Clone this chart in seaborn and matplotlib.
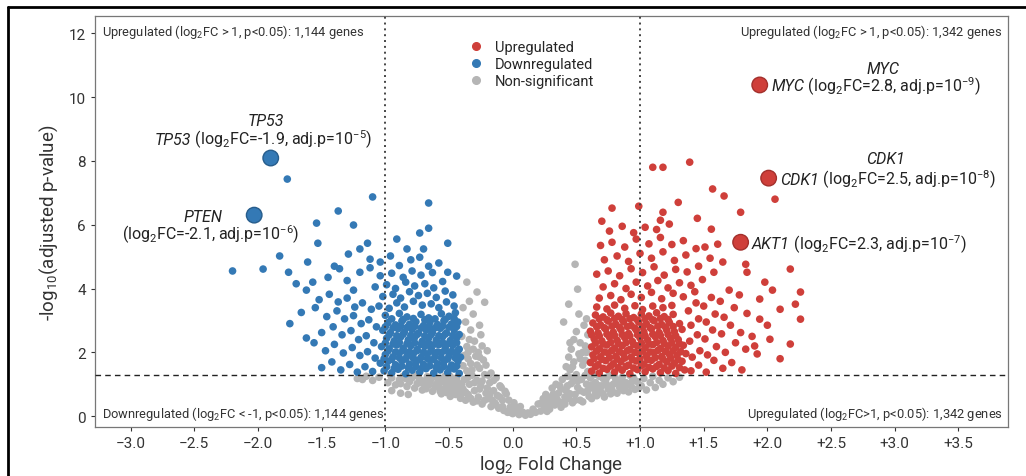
import matplotlib
matplotlib.use("Agg")
import matplotlib.pyplot as plt
import pandas as pd
import seaborn as sns
from matplotlib.lines import Line2D

# ---- data (log2FC, -log10 adj p) ----
gray_pts = [
    (-1.22, 1.18), (-1.15, 1.25), (-1.10, 1.12), (-1.05, 1.22), (-1.18, 1.15),
    (-0.98, 1.05), (-0.95, 1.20), (-0.92, 0.98), (-0.89, 1.14), (-0.86, 1.25), (-0.83, 0.93), (-0.81, 1.08),
    (-0.95, 0.80), (-0.88, 0.72), (-0.82, 0.68), (-0.96, 1.29), (-0.88, 1.02), (-0.84, 1.18),
    (-0.79, 1.20), (-0.77, 0.88), (-0.75, 1.02), (-0.73, 1.15), (-0.71, 0.82), (-0.69, 0.96), (-0.67, 1.24),
    (-0.65, 1.09), (-0.63, 0.78), (-0.61, 0.92), (-0.76, 1.28), (-0.72, 1.05), (-0.68, 0.86), (-0.64, 1.17),
    (-0.59, 1.18), (-0.58, 1.04), (-0.56, 0.70), (-0.55, 0.85), (-0.53, 1.26), (-0.52, 0.98), (-0.50, 1.12),
    (-0.49, 0.62), (-0.47, 0.77), (-0.46, 0.91), (-0.44, 1.20), (-0.43, 1.05), (-0.41, 0.56), (-0.40, 0.70),
    (-0.60, 1.00), (-0.57, 0.78), (-0.54, 1.08), (-0.51, 0.88), (-0.48, 1.02), (-0.45, 0.68), (-0.42, 0.95),
    (-0.39, 0.85), (-0.38, 1.15), (-0.37, 0.50), (-0.36, 1.42), (-0.35, 0.68), (-0.34, 1.00), (-0.33, 1.65),
    (-0.32, 1.28), (-0.31, 0.44), (-0.30, 0.80), (-0.29, 1.88), (-0.28, 1.12), (-0.27, 0.60), (-0.26, 1.50),
    (-0.25, 0.95), (-0.24, 0.38), (-0.23, 1.76), (-0.22, 1.30), (-0.21, 0.72), (-0.20, 2.05),
    (-0.38, 1.90), (-0.36, 2.18), (-0.34, 2.40), (-0.31, 2.10), (-0.39, 1.58), (-0.35, 1.80), (-0.30, 2.35),
    (-0.27, 2.00), (-0.25, 2.55), (-0.33, 2.70), (-0.37, 2.95), (-0.36, 4.20), (-0.28, 3.89), (-0.22, 3.57),
    (-0.31, 3.20), (-0.39, 3.40), (-0.40, 2.50), (-0.26, 2.85), (-0.34, 3.60),
    (-0.19, 0.55), (-0.18, 1.05), (-0.17, 0.30), (-0.17, 1.35), (-0.15, 0.80), (-0.14, 0.42), (-0.13, 1.20),
    (-0.12, 0.65), (-0.11, 0.25), (-0.10, 0.95), (-0.09, 0.90), (-0.08, 0.50), (-0.07, 0.18), (-0.06, 0.78),
    (-0.05, 0.70), (-0.21, 1.60), (-0.26, 1.85), (-0.19, 1.28),
    (-0.04, 0.12), (-0.03, 0.50), (-0.02, 0.28), (0.00, 0.08), (0.01, 0.42), (0.03, 0.20), (0.05, 0.05),
    (0.06, 0.30), (0.08, 0.12), (0.10, 0.03), (0.12, 0.10), (0.14, 0.06), (0.16, 0.22), (0.18, 0.12),
    (0.20, 0.38), (0.22, 0.16), (0.24, 0.55), (0.25, 0.28),
    (0.26, 0.68), (0.27, 0.40), (0.29, 0.22), (0.30, 0.60), (0.31, 0.88), (0.33, 0.35), (0.34, 1.00),
    (0.35, 0.52), (0.36, 0.72), (0.38, 0.28), (0.39, 1.15), (0.40, 0.45), (0.28, 0.55), (0.32, 0.70), (0.37, 0.95),
    (0.41, 0.38), (0.42, 0.80), (0.43, 1.25), (0.44, 0.55), (0.45, 1.45), (0.46, 1.02), (0.47, 0.42),
    (0.48, 1.70), (0.49, 0.68), (0.50, 1.30), (0.51, 0.90), (0.52, 1.95), (0.53, 0.50), (0.54, 1.15),
    (0.55, 1.60), (0.56, 0.75), (0.57, 2.20), (0.58, 1.00), (0.59, 1.40), (0.60, 0.62),
    (0.42, 1.55), (0.44, 1.85), (0.46, 2.10), (0.48, 2.40), (0.50, 2.65), (0.53, 2.30), (0.55, 2.00),
    (0.57, 1.75), (0.59, 2.55), (0.56, 2.85), (0.40, 2.95), (0.44, 3.51), (0.51, 3.98), (0.49, 4.76),
    (0.52, 3.20), (0.58, 3.05),
    (0.61, 1.20), (0.62, 0.55), (0.63, 0.88), (0.65, 1.05), (0.66, 0.64), (0.68, 1.25), (0.69, 0.78),
    (0.70, 0.95), (0.72, 0.60), (0.73, 1.12), (0.75, 0.85), (0.76, 1.28), (0.77, 0.70), (0.79, 1.00),
    (0.64, 1.30), (0.71, 1.18), (0.74, 0.98), (0.67, 0.82),
    (0.81, 1.15), (0.82, 0.72), (0.84, 0.90), (0.86, 1.22), (0.87, 0.80), (0.89, 1.05), (0.91, 0.76),
    (0.93, 0.95), (0.95, 1.20), (0.96, 0.84), (0.98, 1.08), (0.99, 0.88), (0.85, 1.00), (0.92, 1.28),
    (1.01, 0.95), (1.03, 1.18), (1.05, 0.82), (1.08, 1.05), (1.10, 1.25), (1.12, 0.90), (1.15, 1.12),
    (1.18, 1.00), (1.22, 1.20), (1.26, 1.08), (1.31, 1.22),
    (-0.70, 1.10), (-0.66, 0.98), (-0.62, 1.26), (-0.58, 0.90), (-0.55, 1.15), (-0.52, 0.74), (-0.49, 1.24),
    (-0.46, 1.10), (-0.44, 0.80), (-0.40, 1.00), (-0.37, 0.75), (-0.35, 1.22), (-0.33, 0.56), (-0.30, 1.05),
    (-0.28, 0.48), (-0.26, 0.85), (-0.24, 1.10), (-0.22, 0.50), (-0.20, 0.88), (-0.18, 0.68), (-0.16, 0.50),
    (-0.15, 1.12), (-0.13, 0.35), (-0.10, 0.60), (-0.08, 0.30), (-0.02, 0.12), (0.02, 0.30), (0.04, 0.10),
    (0.22, 0.40), (0.27, 0.15), (0.30, 0.40), (0.33, 0.55), (0.36, 0.40), (0.38, 0.85), (0.41, 0.60),
    (0.43, 0.95), (0.45, 0.70), (0.47, 1.20), (0.49, 0.50), (0.51, 1.10), (0.53, 0.80), (0.55, 0.45),
    (0.57, 1.28), (0.59, 0.80), (0.62, 0.98), (0.65, 0.72), (0.68, 0.95), (0.71, 0.70), (0.74, 1.22),
    (0.78, 0.82), (0.80, 1.25), (0.83, 1.05), (0.88, 0.92), (0.94, 1.10), (-0.32, 1.45), (-0.28, 1.60),
    (-0.24, 2.20), (-0.35, 2.00), (0.47, 1.55), (0.53, 1.80), (0.45, 2.30), (0.58, 2.00),
]

blue_pts = [
    (-1.01, 1.42), (-0.95, 1.36), (-0.90, 1.47), (-0.84, 1.33), (-0.79, 1.44), (-0.73, 1.38), (-0.68, 1.49),
    (-0.62, 1.35), (-0.57, 1.45), (-0.51, 1.37), (-0.46, 1.48), (-0.42, 1.34),
    (-1.04, 1.66), (-0.98, 1.72), (-0.92, 1.61), (-0.87, 1.74), (-0.81, 1.63), (-0.76, 1.70), (-0.70, 1.62),
    (-0.65, 1.76), (-0.59, 1.64), (-0.54, 1.71), (-0.48, 1.60), (-0.43, 1.73),
    (-1.00, 1.93), (-0.94, 1.86), (-0.89, 1.98), (-0.83, 1.88), (-0.78, 1.96), (-0.72, 1.84), (-0.67, 1.95),
    (-0.61, 1.87), (-0.56, 1.99), (-0.50, 1.89), (-0.45, 1.97), (-0.41, 1.85),
    (-1.03, 2.18), (-0.97, 2.11), (-0.91, 2.23), (-0.86, 2.13), (-0.80, 2.21), (-0.75, 2.09), (-0.69, 2.19),
    (-0.64, 2.12), (-0.58, 2.24), (-0.53, 2.14), (-0.47, 2.22), (-0.42, 2.10),
    (-0.99, 2.44), (-0.93, 2.36), (-0.88, 2.48), (-0.82, 2.39), (-0.77, 2.47), (-0.71, 2.35), (-0.66, 2.45),
    (-0.60, 2.38), (-0.55, 2.49), (-0.49, 2.37), (-0.44, 2.46),
    (-1.02, 2.69), (-0.96, 2.62), (-0.90, 2.74), (-0.85, 2.64), (-0.79, 2.72), (-0.74, 2.60), (-0.68, 2.70),
    (-0.63, 2.63), (-0.57, 2.75), (-0.52, 2.61), (-0.46, 2.71),
    (-0.98, 2.93), (-0.92, 2.86), (-0.87, 2.98), (-0.81, 2.88), (-0.76, 2.96), (-0.70, 2.84), (-0.65, 2.94),
    (-0.59, 2.87), (-0.54, 2.99), (-0.48, 2.89), (-0.43, 2.95),
    (-1.00, 3.16), (-0.89, 3.22), (-0.83, 3.11), (-0.72, 3.19), (-0.66, 3.08), (-0.56, 3.21), (-0.50, 3.13),
    (-0.45, 3.24),
    (-0.99, 1.55), (-0.93, 1.50), (-0.87, 1.57), (-0.82, 1.52), (-0.76, 1.56), (-0.71, 1.51), (-0.65, 1.58),
    (-0.60, 1.53), (-0.54, 1.56), (-0.49, 1.51), (-0.44, 1.57),
    (-1.01, 1.80), (-0.95, 1.78), (-0.89, 1.83), (-0.84, 1.79), (-0.78, 1.82), (-0.73, 1.77), (-0.67, 1.81),
    (-0.62, 1.78), (-0.56, 1.83), (-0.51, 1.79), (-0.45, 1.82),
    (-0.98, 2.04), (-0.92, 2.01), (-0.86, 2.06), (-0.81, 2.02), (-0.75, 2.05), (-0.70, 2.00), (-0.64, 2.04),
    (-0.59, 2.01), (-0.53, 2.06), (-0.48, 2.03), (-0.43, 2.05),
    (-1.00, 2.29), (-0.94, 2.26), (-0.89, 2.31), (-0.83, 2.27), (-0.77, 2.30), (-0.72, 2.25), (-0.66, 2.29),
    (-0.61, 2.26), (-0.55, 2.31), (-0.50, 2.28), (-0.44, 2.30),
    (-0.97, 2.55), (-0.91, 2.52), (-0.86, 2.57), (-0.80, 2.53), (-0.75, 2.56), (-0.69, 2.51), (-0.64, 2.55),
    (-0.58, 2.52), (-0.53, 2.57), (-0.47, 2.53), (-0.42, 2.56),
    (-1.00, 2.80), (-0.94, 2.77), (-0.88, 2.82), (-0.83, 2.78), (-0.77, 2.81), (-0.72, 2.76), (-0.66, 2.80),
    (-0.61, 2.77), (-0.55, 2.82), (-0.50, 2.79), (-0.44, 2.81),
    (-0.95, 3.05), (-0.86, 3.03), (-0.78, 3.06), (-0.69, 3.02), (-0.61, 3.05), (-0.53, 3.03), (-0.46, 3.06),
    (-1.10, 1.40), (-1.16, 1.55), (-1.22, 1.38), (-1.28, 1.62), (-1.35, 1.45), (-1.42, 1.70), (-1.50, 1.52),
    (-1.08, 1.82), (-1.14, 2.02), (-1.20, 1.90), (-1.26, 2.15), (-1.33, 1.98), (-1.40, 2.25), (-1.47, 2.05),
    (-1.56, 2.30), (-1.09, 2.30), (-1.15, 2.52), (-1.21, 2.40), (-1.27, 2.68), (-1.34, 2.55), (-1.41, 2.80),
    (-1.50, 2.62), (-1.07, 2.80), (-1.13, 3.02), (-1.19, 2.90), (-1.25, 3.15), (-1.32, 3.05), (-1.38, 3.30),
    (-1.46, 3.12), (-1.55, 3.40), (-1.11, 3.35), (-1.18, 3.55), (-1.24, 3.42), (-1.30, 3.70), (-1.37, 3.58),
    (-1.44, 3.82), (-1.52, 3.65), (-1.75, 2.90), (-1.66, 3.25), (-1.62, 2.45),
    (-1.05, 3.45), (-0.97, 3.38), (-0.91, 3.55), (-0.85, 3.42), (-0.78, 3.60), (-0.71, 3.48), (-0.64, 3.52),
    (-0.58, 3.40), (-0.52, 3.58), (-0.46, 3.45),
    (-1.02, 3.75), (-0.94, 3.82), (-0.88, 3.70), (-0.81, 3.90), (-0.74, 3.78), (-0.67, 3.85), (-0.60, 3.72),
    (-0.53, 3.92), (-0.47, 3.80),
    (-1.08, 4.05), (-0.99, 4.12), (-0.92, 4.00), (-0.84, 4.20), (-0.77, 4.08), (-0.69, 4.15), (-0.62, 4.02),
    (-0.55, 4.22), (-0.44, 4.39),
    (-1.04, 4.40), (-0.95, 4.48), (-0.86, 4.35), (-0.79, 4.55), (-0.72, 4.42), (-0.63, 4.50), (-0.51, 4.51),
    (-1.12, 4.65), (-1.04, 4.83), (-0.96, 5.02), (-0.89, 4.72), (-0.80, 4.90), (-0.73, 4.98), (-0.66, 4.70),
    (-0.58, 4.80), (-1.20, 4.51), (-1.14, 5.42), (-1.20, 5.24), (-1.29, 5.08), (-0.91, 5.55), (-0.83, 5.24),
    (-0.70, 5.24), (-0.73, 5.74), (-0.66, 5.89), (-0.51, 5.42), (-0.66, 6.68), (-1.10, 6.87), (-1.37, 6.43),
    (-1.25, 5.99), (-1.54, 6.05),
    (-1.77, 7.43), (-1.83, 5.02), (-1.53, 5.42), (-2.20, 4.55), (-1.96, 4.61), (-1.76, 4.51), (-1.61, 4.83),
    (-1.57, 4.20), (-1.40, 4.70), (-1.36, 4.62), (-1.12, 4.92), (-1.45, 4.35), (-1.30, 4.25), (-1.25, 3.95),
    (-1.62, 3.95), (-1.70, 4.15),
]

red_pts = [
    (0.62, 1.41), (0.68, 1.35), (0.74, 1.47), (0.80, 1.38), (0.86, 1.44), (0.92, 1.33), (0.98, 1.46),
    (1.04, 1.39), (1.10, 1.48), (1.16, 1.36), (1.22, 1.43), (1.28, 1.34), (1.35, 1.45),
    (0.61, 1.68), (0.67, 1.61), (0.73, 1.74), (0.79, 1.64), (0.85, 1.71), (0.91, 1.60), (0.97, 1.73),
    (1.03, 1.63), (1.09, 1.75), (1.15, 1.62), (1.21, 1.70), (1.27, 1.66), (1.33, 1.72),
    (0.63, 1.92), (0.69, 1.86), (0.75, 1.98), (0.81, 1.88), (0.87, 1.95), (0.93, 1.85), (0.99, 1.97),
    (1.05, 1.89), (1.11, 1.99), (1.17, 1.87), (1.23, 1.94), (1.29, 1.90), (1.36, 1.96),
    (0.62, 2.17), (0.68, 2.11), (0.74, 2.23), (0.80, 2.13), (0.86, 2.21), (0.92, 2.09), (0.98, 2.20),
    (1.04, 2.14), (1.10, 2.24), (1.16, 2.12), (1.22, 2.19), (1.28, 2.15), (1.34, 2.22),
    (0.64, 2.42), (0.70, 2.36), (0.76, 2.48), (0.82, 2.38), (0.88, 2.46), (0.94, 2.34), (1.00, 2.45),
    (1.06, 2.39), (1.12, 2.49), (1.18, 2.37), (1.24, 2.44), (1.30, 2.40),
    (0.61, 2.66), (0.67, 2.61), (0.73, 2.73), (0.79, 2.63), (0.85, 2.71), (0.91, 2.59), (0.97, 2.70),
    (1.03, 2.64), (1.09, 2.74), (1.15, 2.62), (1.21, 2.69), (1.27, 2.65), (1.33, 2.72),
    (0.63, 2.92), (0.69, 2.86), (0.75, 2.98), (0.81, 2.88), (0.87, 2.96), (0.93, 2.84), (0.99, 2.95),
    (1.05, 2.89), (1.11, 2.99), (1.17, 2.87), (1.23, 2.94), (1.31, 2.90),
    (0.65, 3.17), (0.71, 3.11), (0.77, 3.23), (0.83, 3.13), (0.89, 3.21), (0.95, 3.09), (1.01, 3.20),
    (1.07, 3.14), (1.13, 3.24), (1.19, 3.12), (1.26, 3.19),
    (0.66, 3.42), (0.74, 3.36), (0.80, 3.48), (0.88, 3.38), (0.96, 3.46), (1.02, 3.34), (1.10, 3.45),
    (1.18, 3.40), (1.25, 3.47),
    (0.65, 1.55), (0.71, 1.50), (0.77, 1.57), (0.83, 1.52), (0.89, 1.56), (0.95, 1.51), (1.01, 1.58),
    (1.07, 1.53), (1.13, 1.56), (1.19, 1.51), (1.25, 1.57), (1.31, 1.52),
    (0.64, 1.80), (0.70, 1.78), (0.76, 1.83), (0.82, 1.79), (0.88, 1.82), (0.94, 1.77), (1.00, 1.81),
    (1.06, 1.78), (1.12, 1.83), (1.18, 1.79), (1.24, 1.82), (1.30, 1.77),
    (0.66, 2.04), (0.72, 2.01), (0.78, 2.06), (0.84, 2.02), (0.90, 2.05), (0.96, 2.00), (1.02, 2.04),
    (1.08, 2.01), (1.14, 2.06), (1.20, 2.03), (1.26, 2.05), (1.32, 2.02),
    (0.65, 2.29), (0.71, 2.26), (0.77, 2.31), (0.83, 2.27), (0.89, 2.30), (0.95, 2.25), (1.01, 2.29),
    (1.07, 2.26), (1.13, 2.31), (1.19, 2.28), (1.25, 2.30), (1.31, 2.27),
    (0.62, 2.55), (0.68, 2.52), (0.74, 2.57), (0.80, 2.53), (0.86, 2.56), (0.92, 2.51), (0.98, 2.55),
    (1.04, 2.52), (1.10, 2.57), (1.16, 2.53), (1.22, 2.56), (1.28, 2.52),
    (0.66, 2.80), (0.72, 2.77), (0.78, 2.82), (0.84, 2.78), (0.90, 2.81), (0.96, 2.76), (1.02, 2.80),
    (1.08, 2.77), (1.14, 2.82), (1.20, 2.79), (1.26, 2.81),
    (0.68, 3.05), (0.74, 3.02), (0.80, 3.06), (0.86, 3.03), (0.92, 3.05), (0.98, 3.01), (1.04, 3.05),
    (1.10, 3.02), (1.16, 3.06), (1.22, 3.03),
    (0.68, 3.70), (0.77, 3.78), (0.85, 3.65), (0.93, 3.82), (1.01, 3.72), (1.09, 3.88), (1.17, 3.68),
    (1.26, 3.85), (1.34, 3.74), (1.43, 3.90),
    (0.71, 4.05), (0.80, 4.15), (0.89, 4.00), (0.97, 4.20), (1.06, 4.08), (1.14, 4.25), (1.22, 4.02),
    (1.31, 4.18), (1.40, 4.10), (1.49, 4.28),
    (0.66, 4.45), (0.75, 4.55), (0.84, 4.40), (0.93, 4.62), (1.02, 4.50), (1.11, 4.68), (1.19, 4.42),
    (1.28, 4.60), (1.37, 4.52), (1.46, 4.70),
    (0.72, 4.90), (0.82, 5.02), (0.91, 4.85), (1.00, 5.10), (1.09, 4.95), (1.18, 5.15), (1.27, 4.88),
    (1.36, 5.05), (1.55, 4.95),
    (0.69, 5.35), (0.78, 5.45), (0.88, 5.30), (0.97, 5.55), (1.07, 5.40), (1.16, 5.60), (1.25, 5.38),
    (1.34, 5.50), (1.44, 5.25),
    (0.76, 5.80), (0.86, 5.95), (0.95, 5.75), (1.04, 5.92), (1.13, 5.85), (1.23, 6.02),
    (0.70, 6.11), (0.78, 6.52), (0.99, 6.58), (1.18, 6.39), (1.16, 6.14), (1.10, 7.80), (1.18, 7.80),
    (1.39, 7.96), (1.57, 7.12), (1.66, 6.90), (2.06, 6.80), (1.79, 6.39), (1.56, 5.86), (1.61, 5.39),
    (1.51, 5.30), (1.65, 4.83), (1.58, 4.51), (1.83, 4.76), (1.84, 4.51), (1.30, 6.70), (1.45, 6.20),
    (1.40, 1.42), (1.46, 1.60), (1.52, 1.38), (1.58, 1.75), (1.65, 1.50), (1.72, 1.68), (1.80, 1.45),
    (1.41, 1.85), (1.47, 2.05), (1.53, 1.92), (1.60, 2.18), (1.67, 2.00), (1.75, 2.30), (1.83, 2.10),
    (1.92, 1.95), (1.39, 2.35), (1.45, 2.55), (1.51, 2.42), (1.57, 2.70), (1.64, 2.58), (1.71, 2.85),
    (1.79, 2.62), (1.88, 2.50), (1.40, 2.85), (1.46, 3.05), (1.52, 2.95), (1.59, 3.20), (1.66, 3.10),
    (1.74, 3.40), (1.84, 3.22), (1.38, 3.30), (1.44, 3.55), (1.50, 3.45), (1.56, 3.72), (1.63, 3.60),
    (1.70, 3.95), (1.78, 3.80),
    (1.94, 3.67), (2.10, 3.35), (2.22, 3.51), (1.94, 3.04), (2.26, 3.04), (2.02, 2.41), (2.18, 2.26),
    (2.04, 3.95), (2.26, 3.89), (2.18, 4.61), (1.98, 4.20), (2.00, 2.85), (1.90, 2.20), (2.10, 1.80),
]

genes = ["TP53", "PTEN", "MYC", "CDK1", "AKT1"]
gene_fc = [-1.90, -2.03, 1.94, 2.01, 1.79]
gene_p = [8.09, 6.30, 10.38, 7.46, 5.45]
gene_grp = ["Downregulated", "Downregulated", "Upregulated", "Upregulated", "Upregulated"]
gene_text = [" (log$_2$FC=-1.9, adj.p=10$^{-5}$)", "(log$_2$FC=-2.1, adj.p=10$^{-6}$)",
             " (log$_2$FC=2.8, adj.p=10$^{-9}$)", " (log$_2$FC=2.5, adj.p=10$^{-8}$)",
             " (log$_2$FC=2.3, adj.p=10$^{-7}$)"]

xticks = [-3.0, -2.5, -2.0, -1.5, -1.0, -0.5, 0.0, 0.5, 1.0, 1.5, 2.0, 2.5, 3.0, 3.5]
xtick_labels = ["\u22123.0", "\u22122.5", "\u22122.0", "\u22121.5", "\u22121.0", "\u22120.5", "0.0",
                "+0.5", "+1.0", "+1.5", "+2.0", "+2.5", "+3.0", "+3.5"]
yticks = [0, 2, 4, 6, 8, 10, 12]

colors = {"Upregulated": "#cf3f3a", "Downregulated": "#3479b5", "Non-significant": "#b5b5b5"}
edges = {"Upregulated": "#a3302c", "Downregulated": "#275d8c", "Non-significant": "#b0b0b0"}

rows = []
for grp, pts in [("Non-significant", gray_pts), ("Downregulated", blue_pts), ("Upregulated", red_pts)]:
    for x, y in pts:
        rows.append({"log2FC": x, "nlp": y, "group": grp})
df = pd.DataFrame(rows)
hl = pd.DataFrame({"gene": genes, "log2FC": gene_fc, "nlp": gene_p, "group": gene_grp})

sns.set_style("ticks")
plt.rcParams["font.family"] = ["Roboto", "DejaVu Sans"]
plt.rcParams["mathtext.fontset"] = "custom"
plt.rcParams["mathtext.rm"] = "Roboto"
plt.rcParams["mathtext.it"] = "Roboto:italic"

fig = plt.figure(figsize=(10.26, 4.77), dpi=100)
ax = fig.add_axes([0.0926, 0.1027, 0.8899, 0.8616])

sns.scatterplot(data=df, x="log2FC", y="nlp", hue="group", palette=colors, linewidth=0,
                s=30, ax=ax, legend=False, zorder=2)

sns.scatterplot(data=hl, x="log2FC", y="nlp", hue="group", palette=colors, s=125,
                edgecolor=[edges[g] for g in hl["group"]], linewidth=1.0, ax=ax, legend=False, zorder=4)

ax.axhline(1.3, color="#222222", lw=1.0, ls=(0, (4, 3)), zorder=3)
ax.axvline(-1.0, color="#444444", lw=1.4, ls=(0, (1, 2)), zorder=3)
ax.axvline(1.0, color="#444444", lw=1.4, ls=(0, (1, 2)), zorder=3)

ax.set_xlim(-3.28, 3.89)
ax.set_ylim(-0.34, 12.54)
ax.set_xticks(xticks)
ax.set_xticklabels(xtick_labels)
ax.set_yticks(yticks)
ax.tick_params(labelsize=11, colors="#333333", length=3, width=0.8)
for sp in ax.spines.values():
    sp.set_color("#777777")
    sp.set_linewidth(0.9)
ax.set_xlabel("log$_2$ Fold Change", fontsize=13.5, color="#333333", labelpad=2)
ax.set_ylabel("-log$_{10}$(adjusted p-value)", fontsize=13.5, color="#333333", labelpad=6)

# corner notes
note = dict(fontsize=9.3, color="#333333", transform=ax.transAxes)
ax.text(0.008, 0.985, "Upregulated (log$_2$FC > 1, p<0.05): 1,144 genes", ha="left", va="top", **note)
ax.text(0.994, 0.985, "Upregulated (log$_2$FC > 1, p<0.05): 1,342 genes", ha="right", va="top", **note)
ax.text(0.008, 0.012, "Downregulated (log$_2$FC < -1, p<0.05): 1,144 genes", ha="left", va="bottom", **note)
ax.text(0.994, 0.012, "Upregulated (log$_2$FC>1, p<0.05): 1,342 genes", ha="right", va="bottom", **note)

# gene labels: italic name header, then name + stats line
lab = dict(fontsize=11.5, color="#222222", zorder=5)
headers = {"TP53": (-1.94, 9.28), "PTEN": (-2.43, 6.27), "MYC": (2.91, 10.88), "CDK1": (2.93, 8.06)}
for g, (hx, hy) in headers.items():
    ax.text(hx, hy, g, style="italic", ha="center", va="center", **lab)
line_pos = {"TP53": (-2.81, 8.68), "MYC": (2.03, 10.35), "CDK1": (2.10, 7.43), "AKT1": (1.88, 5.40)}
for g, txt in zip(genes, gene_text):
    if g in line_pos:
        lx, ly = line_pos[g]
        name = ax.text(lx, ly, g, style="italic", ha="left", va="center", **lab)
        ax.annotate(txt, xy=(1, 0.5), xycoords=name, ha="left", va="center", **lab)
    else:
        ax.text(-2.37, 5.70, txt, ha="center", va="center", **lab)

handles = [Line2D([], [], marker="o", ls="", markersize=5.5, color=colors[g], label=g)
           for g in ["Upregulated", "Downregulated", "Non-significant"]]
ax.legend(handles=handles, loc="upper left", bbox_to_anchor=(0.395, 0.955), frameon=False,
          fontsize=10.5, handletextpad=0.3, labelspacing=0.2, borderaxespad=0)

# screenshot frame on left and top
fig.add_artist(Line2D([8 / 1026, 8 / 1026], [0, 1 - 8 / 477], color="black", lw=2))
fig.add_artist(Line2D([8 / 1026, 1], [1 - 8 / 477, 1 - 8 / 477], color="black", lw=2))

fig.savefig("out.png", dpi=100)
